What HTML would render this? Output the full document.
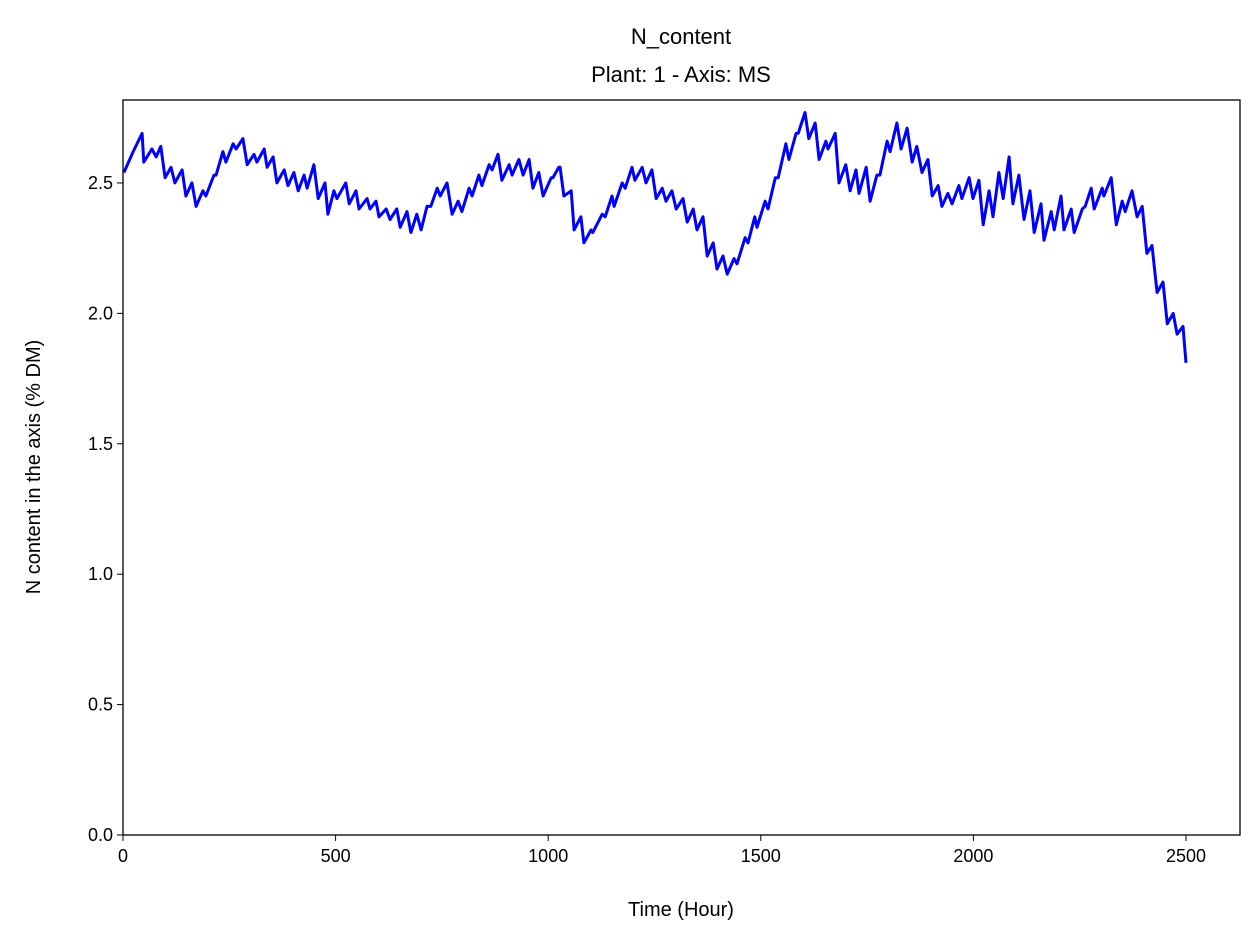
<!DOCTYPE html>
<html><head><meta charset="utf-8"><style>
body{margin:0;background:#fff;}
svg{display:block;font-family:"Liberation Sans","DejaVu Sans",sans-serif;}
</style></head><body>
<svg id="chart" width="1259" height="942" viewBox="0 0 1259 942">
<rect width="1259" height="942" fill="#fff"/>
<text x="681" y="44" text-anchor="middle" font-size="22">N_content</text>
<text x="681" y="82" text-anchor="middle" font-size="22">Plant: 1 - Axis: MS</text>
<g id="ticks"></g>
<path id="series" fill="none" stroke="#0000ff" stroke-width="3" stroke-linejoin="round"/>
<rect x="123" y="100" width="1117" height="735" fill="none" stroke="#000" stroke-width="1.3"/>
<text x="681" y="916" text-anchor="middle" font-size="20">Time (Hour)</text>
<text transform="translate(40,467) rotate(-90)" text-anchor="middle" font-size="20">N content in the axis (% DM)</text>
</svg>
<script>
const times=[2,24,45,49,68,78,89,99,113,122,139,148,162,172,188,195,214,219,235,242,259,266,282,292,308,315,332,339,353,362,379,388,402,412,426,433,449,459,475,482,496,503,524,532,548,555,574,581,595,602,619,628,644,652,668,677,691,701,715,724,739,746,762,774,788,797,814,821,837,844,861,868,882,891,908,915,931,941,955,964,978,988,1007,1011,1025,1028,1037,1054,1061,1077,1084,1101,1105,1127,1134,1150,1155,1174,1181,1197,1204,1221,1230,1244,1254,1268,1277,1291,1301,1317,1327,1341,1350,1364,1374,1388,1397,1411,1421,1437,1444,1463,1470,1486,1491,1510,1517,1534,1541,1559,1566,1583,1588,1604,1613,1628,1637,1653,1658,1675,1684,1700,1710,1724,1731,1748,1757,1773,1780,1797,1804,1820,1830,1844,1856,1867,1879,1893,1903,1917,1926,1940,1950,1966,1973,1990,1999,2013,2023,2037,2046,2060,2070,2084,2093,2107,2119,2133,2143,2159,2166,2183,2190,2206,2213,2230,2237,2256,2263,2277,2284,2303,2307,2324,2336,2350,2357,2373,2385,2397,2408,2420,2432,2446,2456,2470,2479,2493,2500];
const values=[2.54,2.62,2.69,2.58,2.63,2.60,2.64,2.52,2.56,2.50,2.55,2.45,2.50,2.41,2.47,2.45,2.53,2.53,2.62,2.58,2.65,2.63,2.67,2.57,2.61,2.58,2.63,2.56,2.60,2.50,2.55,2.49,2.54,2.47,2.53,2.48,2.57,2.44,2.50,2.38,2.47,2.44,2.50,2.42,2.47,2.40,2.44,2.40,2.43,2.37,2.40,2.36,2.40,2.33,2.39,2.31,2.38,2.32,2.41,2.41,2.48,2.45,2.50,2.38,2.43,2.39,2.48,2.45,2.53,2.49,2.57,2.55,2.61,2.51,2.57,2.53,2.59,2.53,2.59,2.48,2.54,2.45,2.52,2.52,2.56,2.56,2.45,2.47,2.32,2.37,2.27,2.32,2.31,2.38,2.37,2.45,2.41,2.50,2.48,2.56,2.51,2.56,2.50,2.55,2.44,2.48,2.43,2.47,2.40,2.44,2.35,2.40,2.32,2.37,2.22,2.27,2.17,2.22,2.15,2.21,2.19,2.29,2.27,2.37,2.33,2.43,2.40,2.52,2.52,2.65,2.59,2.69,2.69,2.77,2.67,2.73,2.59,2.66,2.63,2.69,2.50,2.57,2.47,2.55,2.46,2.56,2.43,2.53,2.53,2.66,2.62,2.73,2.63,2.71,2.58,2.64,2.54,2.59,2.45,2.49,2.41,2.46,2.42,2.49,2.44,2.52,2.44,2.51,2.34,2.47,2.37,2.54,2.44,2.60,2.42,2.53,2.36,2.47,2.31,2.42,2.28,2.39,2.32,2.45,2.32,2.40,2.31,2.40,2.41,2.48,2.40,2.48,2.45,2.52,2.34,2.43,2.39,2.47,2.37,2.41,2.23,2.26,2.08,2.12,1.96,2.00,1.92,1.95,1.81];
const xTicks=[0,500,1000,1500,2000,2500];
const yTicks=[0.0,0.5,1.0,1.5,2.0,2.5];
const yTickLabels=["0.0","0.5","1.0","1.5","2.0","2.5"];
const X0=123,X1=1240,Y0=835,Y1=100,xMax=2627,yMax=2.818;
function xs(t){return X0+t/xMax*(X1-X0);}
function ys(v){return Y0-v/yMax*(Y0-Y1);}
const NS="http://www.w3.org/2000/svg";
const g=document.getElementById('ticks');
xTicks.forEach(function(t){
  const l=document.createElementNS(NS,'line');
  l.setAttribute('x1',xs(t));l.setAttribute('x2',xs(t));l.setAttribute('y1',Y0);l.setAttribute('y2',Y0+6);l.setAttribute('stroke','#000');
  
  
  g.appendChild(l);
  const tx=document.createElementNS(NS,'text');
  tx.setAttribute('x',xs(t));tx.setAttribute('y',Y0+27);tx.setAttribute('text-anchor','middle');tx.setAttribute('font-size','18');
  tx.textContent=String(t);
  
  
  g.appendChild(tx);
});
yTicks.forEach(function(v,i){
  const l=document.createElementNS(NS,'line');
  l.setAttribute('x1',X0-6);l.setAttribute('x2',X0);l.setAttribute('y1',ys(v));l.setAttribute('y2',ys(v));l.setAttribute('stroke','#000');
  
  
  g.appendChild(l);
  const tx=document.createElementNS(NS,'text');
  tx.setAttribute('x',X0-10);tx.setAttribute('y',ys(v)+6);tx.setAttribute('text-anchor','end');tx.setAttribute('font-size','18');
  tx.textContent=yTickLabels[i];
  
  
  g.appendChild(tx);
});
let d='';
times.forEach(function(t,i){d+=(i?'L':'M')+xs(t).toFixed(1)+','+ys(values[i]).toFixed(1);});
document.getElementById('series').setAttribute('d',d);
</script>
</body></html>
